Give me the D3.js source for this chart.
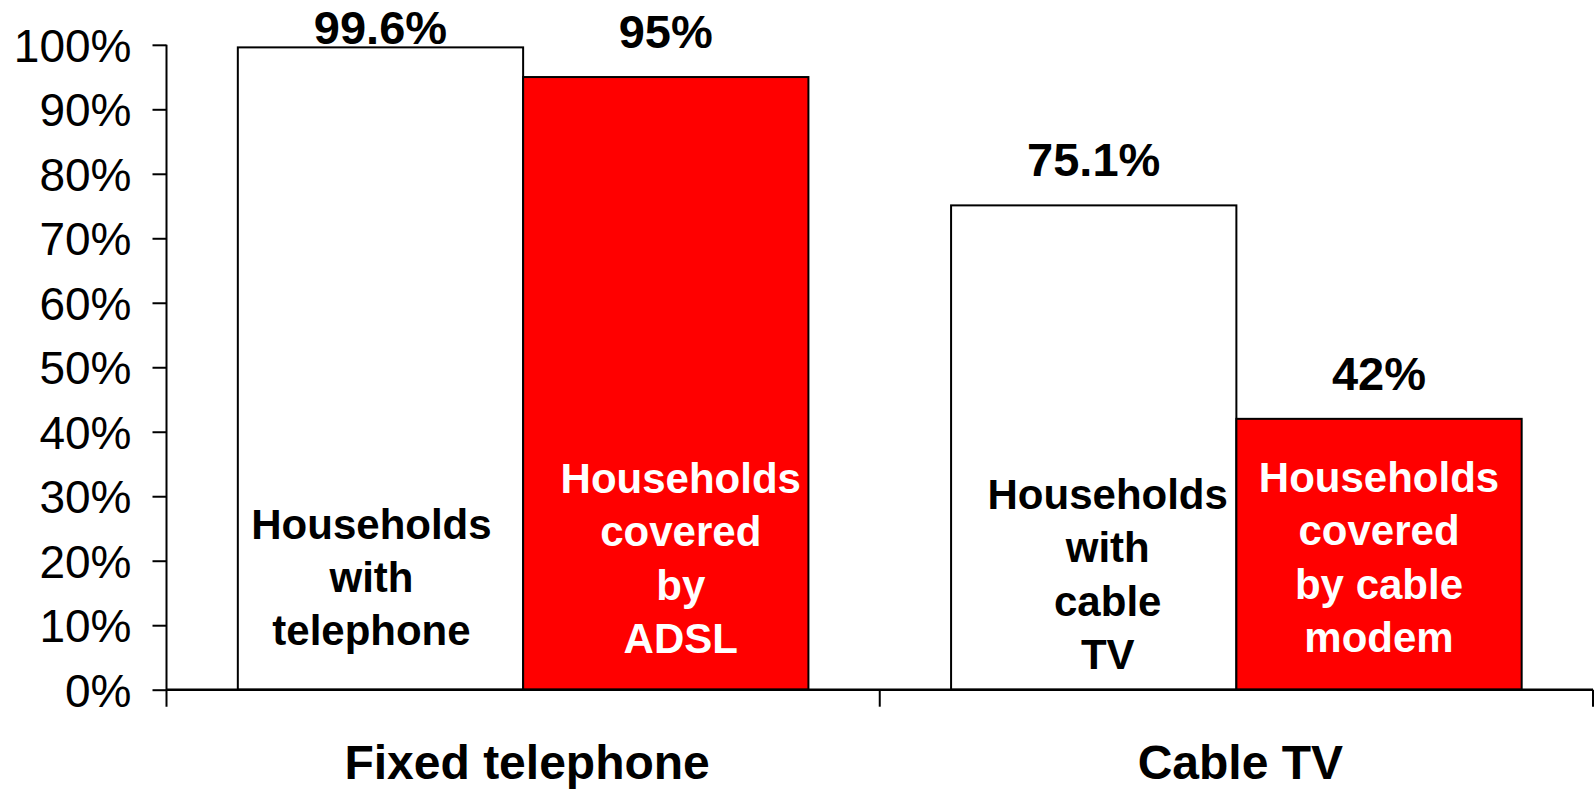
<!DOCTYPE html>
<html>
<head>
<meta charset="utf-8">
<script src="https://cdn.jsdelivr.net/npm/d3@7"></script>
<style>
  body { margin: 0; background: #fff; }
  svg text { font-family: "Liberation Sans", Arial, sans-serif; }
</style>
</head>
<body>
<div id="chart"></div>
<script>
// chart data
const categories = ['Fixed telephone', 'Cable TV'];
const seriesKeys = ['households', 'covered'];
const values = [
    [99.6, 95],
    [75.1, 42]
];
const valueLabels = ['99.6%', '95%', '75.1%', '42%'];
const barLabels = [
    ['Households', 'with', 'telephone'],
    ['Households', 'covered', 'by', 'ADSL'],
    ['Households', 'with', 'cable', 'TV'],
    ['Households', 'covered', 'by cable', 'modem']
];
const yTicks = [0, 10, 20, 30, 40, 50, 60, 70, 80, 90, 100];

// layout only (manual placement of the text boxes inside the bars)
const innerShiftX = [-9, 15, 14, 0];
const innerCenterY = [592, 573, 589, 572];

const width = 1595, height = 791;
const margin = { top: 44.8, right: 2, bottom: 101.3, left: 166.5 };
const plotH = height - margin.top - margin.bottom;

const colors = { households: '#ffffff', covered: '#ff0000' };
const textColors = { households: '#000000', covered: '#ffffff' };

let svg = d3.select('#chart').append('svg')
    .attr('width', width)
    .attr('height', height);

let x0 = d3.scaleBand()
    .domain(categories)
    .range([margin.left, width - margin.right])
    .padding(0);
let x1 = d3.scaleBand()
    .domain(seriesKeys)
    .range([0, x0.bandwidth()])
    .paddingInner(0)
    .paddingOuter(0.25);
let y = d3.scaleLinear().domain([0, 100]).range([margin.top + plotH, margin.top]);

// flatten data for the bars
let bars = [];
categories.forEach((c, i) => {
    seriesKeys.forEach((k, j) => {
        bars.push({ cat: c, key: k, value: values[i][j], idx: i * 2 + j });
    });
});

svg.append('g').selectAll('rect')
    .data(bars)
    .join('rect')
    .attr('x', d => x0(d.cat) + x1(d.key))
    .attr('y', d => y(d.value))
    .attr('width', x1.bandwidth())
    .attr('height', d => y(0) - y(d.value))
    .attr('fill', d => colors[d.key])
    .attr('stroke', '#000')
    .attr('stroke-width', 2);

// y axis
let yAxis = svg.append('g')
    .attr('transform', `translate(${margin.left},0)`)
    .call(d3.axisLeft(y).tickValues(yTicks).tickFormat(d => d + '%').tickSize(14).tickPadding(21).tickSizeOuter(0));
yAxis.select('.domain').remove();
yAxis.selectAll('line').attr('stroke', '#000').attr('stroke-width', 2);
yAxis.selectAll('text').attr('font-size', 46).attr('fill', '#000').attr('dy', '0.36em');
svg.append('line')
    .attr('x1', margin.left).attr('x2', margin.left)
    .attr('y1', y(100)).attr('y2', y(0) + 17)
    .attr('stroke', '#000').attr('stroke-width', 2);

// x axis: baseline with category separators
svg.append('line')
    .attr('x1', margin.left).attr('x2', width - margin.right)
    .attr('y1', y(0)).attr('y2', y(0))
    .attr('stroke', '#000').attr('stroke-width', 2.5);
svg.append('g').selectAll('line')
    .data(categories.slice(1).concat(['end']))
    .join('line')
    .attr('x1', d => d === 'end' ? width - margin.right : x0(d))
    .attr('x2', d => d === 'end' ? width - margin.right : x0(d))
    .attr('y1', y(0)).attr('y2', y(0) + 17)
    .attr('stroke', '#000').attr('stroke-width', 2);

svg.append('g').selectAll('text')
    .data(categories)
    .join('text')
    .attr('x', d => x0(d) + x0.bandwidth() / 2 + 4)
    .attr('y', y(0) + 89)
    .attr('text-anchor', 'middle')
    .attr('font-size', 48)
    .attr('font-weight', 'bold')
    .text(d => d);

// value labels above bars (pushed down to the plot top when needed)
svg.append('g').selectAll('text')
    .data(bars)
    .join('text')
    .attr('x', d => x0(d.cat) + x1(d.key) + x1.bandwidth() / 2)
    .attr('y', d => Math.max(y(d.value) - 29, margin.top - 1))
    .attr('text-anchor', 'middle')
    .attr('font-size', 47)
    .attr('font-weight', 'bold')
    .text(d => valueLabels[d.idx]);

// labels inside the bars
const lineH = 53.3;
let inner = svg.append('g').selectAll('text')
    .data(bars)
    .join('text')
    .attr('text-anchor', 'middle')
    .attr('font-size', 42)
    .attr('font-weight', 'bold')
    .attr('fill', d => textColors[d.key]);
inner.each(function(d) {
    let lines = barLabels[d.idx];
    let cx = x0(d.cat) + x1(d.key) + x1.bandwidth() / 2 + innerShiftX[d.idx];
    let first = innerCenterY[d.idx] - (lines.length - 1) * lineH / 2;
    d3.select(this).selectAll('tspan')
        .data(lines)
        .join('tspan')
        .attr('x', cx)
        .attr('y', (l, i) => first + i * lineH)
        .text(l => l);
});
</script>
</body>
</html>
